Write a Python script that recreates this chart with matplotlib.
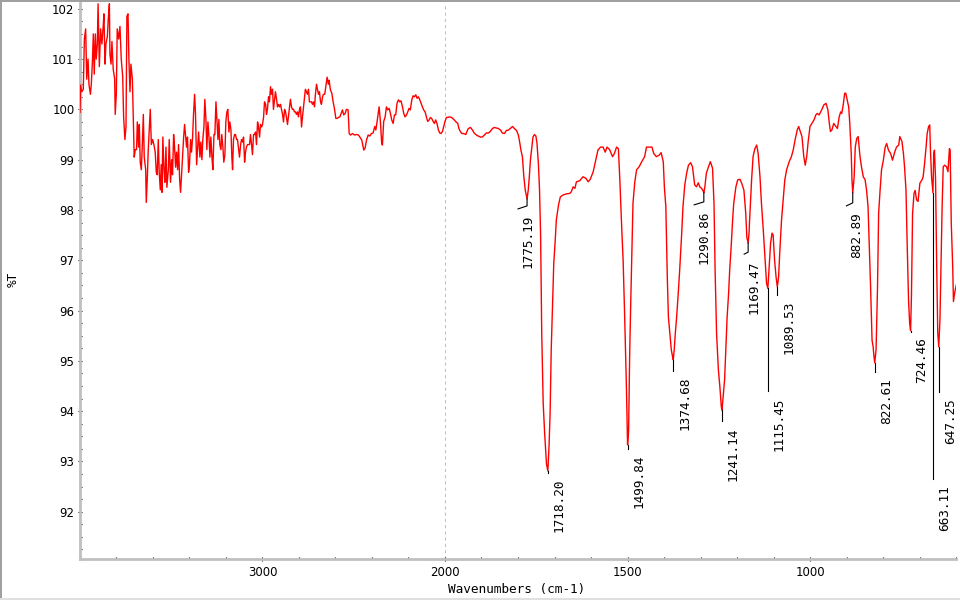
import numpy as np
import matplotlib
matplotlib.use("Agg")
import matplotlib.pyplot as plt
from matplotlib.ticker import FixedLocator, FormatStrFormatter, NullFormatter
from matplotlib.patches import Rectangle

# ---------------- data ----------------
wn_high = [4000, 3997, 3990, 3982, 3976, 3969, 3963, 3956, 3951, 3943, 3938, 3932, 3927, 3922,
           3916, 3911, 3905, 3901, 3894, 3887, 3880, 3872, 3869, 3863, 3858, 3850, 3845, 3839,
           3836, 3830, 3825, 3818, 3810, 3807, 3801, 3796, 3788, 3781, 3774, 3766, 3761, 3754,
           3748, 3743, 3737, 3732, 3726, 3721, 3713, 3708, 3703, 3697, 3690, 3686, 3679, 3675,
           3670, 3664, 3659, 3653, 3648, 3640, 3637, 3631, 3626, 3620, 3615, 3609, 3602, 3595,
           3588, 3582, 3577, 3571, 3566, 3560, 3555, 3551, 3546, 3540, 3535, 3529, 3524, 3516,
           3511, 3504, 3498, 3493, 3487, 3482, 3476, 3471, 3465, 3460, 3454, 3449, 3443, 3438,
           3432, 3427, 3421, 3416, 3411, 3405, 3400, 3394, 3389, 3383, 3378, 3372, 3367, 3361,
           3356, 3350, 3343, 3338, 3332, 3327, 3321, 3316, 3310, 3305, 3299, 3294, 3288, 3283,
           3277, 3272, 3266, 3261, 3255, 3250, 3244, 3239, 3234, 3228, 3223, 3217, 3212, 3206,
           3201, 3195, 3190, 3184, 3179, 3173, 3168, 3164, 3159, 3153, 3148, 3142, 3137, 3131,
           3126, 3120, 3115, 3109, 3104, 3098, 3093, 3088, 3082, 3077, 3071, 3066, 3060, 3055,
           3049, 3044, 3038, 3033, 3027, 3022, 3016, 3011, 3005, 3000, 2994, 2989, 2983, 2978,
           2973, 2967, 2962, 2956, 2951, 2945, 2940, 2934, 2929, 2923, 2918, 2912, 2907, 2901,
           2896, 2890, 2885, 2879, 2874, 2869, 2863, 2858, 2852, 2847, 2841, 2836, 2830, 2825,
           2819, 2814, 2808, 2803, 2797, 2792, 2786, 2781, 2775, 2770, 2765, 2759, 2754, 2748,
           2743, 2737, 2732, 2726, 2721, 2715, 2710, 2704, 2699, 2693, 2688, 2682, 2677, 2671,
           2666, 2659, 2646, 2639, 2635, 2628, 2620, 2613, 2606, 2598, 2591, 2584, 2576, 2569,
           2562, 2555, 2547, 2540, 2531, 2525, 2518, 2507, 2496, 2485, 2474, 2463, 2456, 2445,
           2438, 2430, 2421, 2412, 2403, 2394, 2385, 2379, 2372, 2365, 2361, 2354, 2347, 2343,
           2336, 2328, 2321, 2314, 2306, 2299, 2292, 2284, 2277, 2270, 2263, 2255, 2248, 2241,
           2233, 2226, 2219, 2211, 2204, 2197, 2190, 2182, 2175, 2168, 2160, 2153, 2146, 2138,
           2131, 2124, 2117, 2109, 2102, 2095, 2087, 2080, 2073, 2065, 2058, 2051, 2044, 2036,
           2029, 2022, 2014, 2007]
T_high = [99.94, 100.48, 100.35, 100.40, 101.40, 101.60, 100.60, 101.00, 100.50, 100.30, 100.50,
          100.95, 101.50, 100.70, 101.50, 101.00, 101.30, 102.10, 100.85, 101.60, 101.30, 101.70,
          101.90, 100.90, 101.30, 101.45, 101.80, 102.10, 101.10, 100.90, 101.35, 100.80, 100.60,
          99.90, 100.30, 101.60, 101.40, 101.65, 101.00, 100.65, 99.85, 99.40, 99.65, 101.85,
          101.90, 101.00, 100.35, 100.90, 100.60, 99.80, 99.05, 99.20, 99.20, 99.75, 99.25,
          99.70, 98.95, 98.80, 99.25, 99.90, 99.05, 98.80, 98.15, 98.65, 99.20, 99.65, 100.00,
          99.30, 99.40, 99.30, 99.15, 98.75, 98.70, 99.40, 98.75, 98.40, 98.90, 98.35, 99.45,
          98.80, 98.55, 99.25, 98.45, 98.80, 99.40, 98.55, 99.00, 98.70, 99.50, 99.25, 98.85,
          99.15, 98.80, 99.30, 98.60, 98.35, 98.75, 99.05, 99.45, 99.70, 99.45, 99.25, 99.45,
          98.75, 98.90, 99.40, 99.15, 99.45, 99.90, 100.30, 99.90, 98.90, 99.20, 99.55,
          99.05, 99.35, 99.00, 99.40, 99.65, 100.20, 99.80, 99.20, 99.75, 99.50, 99.05, 99.45,
          99.05, 98.80, 99.50, 99.50, 100.15, 99.80, 99.40, 99.80, 99.30, 99.20, 99.50, 99.25,
          98.95, 99.10, 99.75, 99.95, 100.00, 99.55, 99.75, 99.60, 99.05, 98.80, 99.40, 99.50,
          99.50, 99.40, 99.40, 99.20, 99.05, 99.30, 99.40, 99.35, 99.45, 98.95, 99.15, 99.25,
          99.30, 99.30, 99.30, 99.50, 99.30, 99.10, 99.50, 99.50, 99.55, 99.30, 99.75, 99.65,
          99.45, 99.70, 99.65, 99.70, 99.85, 100.15, 100.10, 99.90, 100.00, 100.25, 100.15,
          100.45, 100.30, 100.40, 100.00, 100.20, 100.35, 100.20, 100.05, 100.10, 100.05, 100.10,
          100.00, 99.90, 99.75, 100.00, 99.95, 99.85, 99.70, 99.85, 100.05, 100.20, 100.05,
          100.00, 100.00, 99.95, 99.95, 99.90, 99.95, 99.85, 100.00, 100.05, 99.65, 99.85,
          100.05, 100.20, 100.40, 100.35, 100.30, 100.40, 100.15, 100.15, 100.15, 100.10,
          100.15, 100.05, 100.30, 100.50, 100.40, 100.30, 100.35, 100.15, 100.10, 100.25,
          100.30, 100.30, 100.64, 100.50, 100.58, 100.39, 100.32, 100.15, 100.02, 99.82, 99.82,
          99.84, 99.85, 99.92, 99.99, 99.89, 99.92, 100.00, 99.99, 99.52, 99.49, 99.52, 99.49,
          99.50, 99.49, 99.43, 99.39, 99.19, 99.23, 99.39, 99.49, 99.47, 99.52, 99.53, 99.66,
          99.59, 99.76, 99.95, 100.05, 99.76, 99.33, 99.29, 99.76, 99.85, 100.05, 99.99, 100.02,
          99.92, 99.79, 99.72, 99.89, 99.89, 100.12, 100.19, 100.15, 100.17, 100.05, 99.92,
          99.85, 99.89, 99.95, 100.02, 99.99, 100.19, 100.27, 100.25, 100.29, 100.22, 100.25,
          100.19, 100.12, 100.05, 99.99, 99.95, 99.85, 99.76, 99.79, 99.84, 99.82, 99.76, 99.72,
          99.79, 99.72, 99.59, 99.53, 99.52, 99.56, 99.66]

wn_low = [2000, 1996, 1993, 1987, 1982, 1976, 1971, 1965, 1962, 1958, 1954, 1949, 1943, 1940,
          1936, 1930, 1925, 1920, 1914, 1909, 1903, 1898, 1892, 1887, 1881, 1876, 1870, 1865,
          1859, 1854, 1848, 1843, 1837, 1832, 1826, 1821, 1815, 1810, 1804, 1799, 1795, 1792,
          1788, 1784, 1780, 1775.19, 1772, 1769, 1766, 1762, 1759, 1755, 1751, 1748, 1744, 1741,
          1738, 1735, 1731, 1727, 1722, 1718.20, 1715, 1712, 1709, 1706, 1702, 1698, 1695, 1689,
          1684, 1676, 1667, 1658, 1654, 1649, 1644, 1640, 1631, 1622, 1614, 1608, 1602, 1594,
          1587, 1581, 1574, 1567, 1561, 1556, 1549, 1541, 1536, 1530, 1525, 1521, 1516, 1512,
          1508, 1503, 1499.84, 1497, 1494, 1491, 1488, 1485, 1480, 1475, 1468, 1461, 1453, 1448,
          1443, 1433, 1428, 1421, 1413, 1408, 1402, 1399, 1395, 1391, 1388, 1384, 1380, 1377,
          1374.68, 1372, 1369, 1366, 1361, 1357, 1352, 1348, 1343, 1338, 1333, 1327, 1322, 1316,
          1311, 1306, 1302, 1297, 1293, 1290.86, 1288, 1284, 1278, 1273, 1267, 1263, 1260, 1256,
          1251, 1247, 1243, 1241.14, 1238, 1234, 1231, 1227, 1223, 1220, 1216, 1212, 1209, 1203,
          1198, 1192, 1187, 1181, 1176, 1173, 1169.47, 1167, 1165, 1160, 1156, 1151, 1146, 1142,
          1137, 1133, 1128, 1124, 1119, 1115.45, 1112, 1108, 1104, 1101, 1097, 1093, 1089.53,
          1086, 1083, 1078, 1073, 1069, 1064, 1057, 1051, 1046, 1041, 1035, 1031, 1028, 1022,
          1017, 1013, 1009, 1005, 1000, 995, 989, 984, 980, 975, 968, 962, 956, 951, 947, 944,
          940, 935, 929, 925, 920, 916, 913, 909, 905, 902, 898, 894, 891, 887, 885, 882.89,
          879, 876, 872, 868, 863, 859, 854, 849, 845, 841, 838, 834, 830, 827, 825, 822.61,
          819, 815, 812, 808, 804, 799, 794, 790, 785, 779, 774, 768, 763, 757, 754, 748, 744,
          741, 737, 734, 730, 727, 724.46, 722, 719, 715, 712, 708, 704, 699, 693, 690, 686,
          682, 679, 675, 672, 670, 667, 663.11, 661, 659, 656, 653, 650, 647.25, 644, 641, 638,
          635, 631, 626, 622, 618, 616, 613, 609, 607, 603, 598]
T_low = [99.76, 99.84, 99.84, 99.85, 99.84, 99.80, 99.76, 99.72, 99.62, 99.56, 99.52, 99.52,
         99.50, 99.56, 99.62, 99.64, 99.59, 99.53, 99.49, 99.47, 99.45, 99.45, 99.49, 99.53,
         99.53, 99.56, 99.62, 99.64, 99.63, 99.62, 99.59, 99.53, 99.52, 99.58, 99.59, 99.62,
         99.66, 99.62, 99.58, 99.49, 99.33, 99.19, 99.06, 98.66, 98.39, 98.22, 98.39, 98.66,
         98.99, 99.25, 99.45, 99.50, 99.47, 99.33, 98.90, 98.40, 97.47, 95.55, 94.16, 93.56,
         92.95, 92.81, 93.30, 93.96, 95.22, 95.95, 96.94, 97.40, 97.80, 98.10, 98.26, 98.30,
         98.32, 98.33, 98.36, 98.46, 98.43, 98.56, 98.58, 98.66, 98.63, 98.56, 98.61, 98.76,
         98.99, 99.19, 99.25, 99.25, 99.15, 99.25, 99.20, 99.06, 99.12, 99.25, 99.22, 98.60,
         97.67, 97.00, 95.95, 94.49, 93.33, 93.60, 95.15, 96.20, 97.14, 98.13, 98.56, 98.80,
         98.86, 98.96, 99.06, 99.25, 99.25, 99.25, 99.12, 99.06, 99.09, 99.14, 98.96, 98.46,
         98.07, 96.67, 95.88, 95.55, 95.22, 95.10, 95.02, 95.22, 95.55, 95.81, 96.34, 96.81,
         97.47, 98.07, 98.50, 98.73, 98.89, 98.94, 98.86, 98.50, 98.46, 98.54, 98.46, 98.43,
         98.38, 98.34, 98.46, 98.73, 98.86, 98.96, 98.83, 98.13, 96.81, 95.55, 94.82, 94.49,
         94.09, 94.02, 94.29, 94.62, 95.15, 95.88, 96.34, 96.81, 97.27, 97.80, 98.13, 98.46,
         98.60, 98.61, 98.53, 98.39, 97.93, 97.45, 97.34, 97.54, 97.87, 98.60, 99.06, 99.22,
         99.29, 99.12, 98.66, 98.13, 97.60, 97.14, 96.54, 96.44, 96.87, 97.34, 97.54, 97.50,
         97.00, 96.67, 96.47, 96.67, 97.14, 97.80, 98.26, 98.60, 98.80, 98.96, 99.06, 99.19,
         99.39, 99.59, 99.66, 99.59, 99.46, 99.06, 98.89, 99.06, 99.36, 99.66, 99.72, 99.79,
         99.89, 99.92, 99.89, 99.99, 100.09, 100.12, 99.99, 99.72, 99.56, 99.59, 99.72, 99.66,
         99.62, 99.85, 99.95, 99.92, 100.09, 100.32, 100.32, 100.19, 100.05, 99.72, 99.12,
         98.60, 98.34, 98.66, 99.25, 99.42, 99.46, 99.06, 98.86, 98.66, 98.60, 98.39, 98.07,
         97.40, 96.47, 95.41, 95.28, 95.10, 94.96, 95.22, 96.47, 97.93, 98.39, 98.80, 98.99,
         99.25, 99.32, 99.19, 99.12, 98.99, 99.15, 99.25, 99.29, 99.46, 99.36, 99.12, 98.86,
         98.39, 97.40, 96.20, 95.75, 95.60, 96.30, 97.93, 98.33, 98.39, 98.20, 98.17, 98.53,
         98.60, 98.66, 98.93, 99.25, 99.52, 99.66, 99.69, 99.19, 98.66, 98.34, 99.12, 99.19,
         98.60, 96.94, 95.55, 95.28, 95.81, 96.94, 98.07, 98.86, 98.89, 98.86, 98.76, 99.22,
         99.19, 97.74, 96.87, 96.18, 96.38, 96.54]

peak_labels = ["1775.19", "1718.20", "1499.84", "1374.68", "1290.86", "1241.14", "1169.47",
               "1115.45", "1089.53", "882.89", "822.61", "724.46", "663.11", "647.25"]
peak_wn = [1775.19, 1718.20, 1499.84, 1374.68, 1290.86, 1241.14, 1169.47,
           1115.45, 1089.53, 882.89, 822.61, 724.46, 663.11, 647.25]
peak_T = [98.22, 92.81, 93.33, 95.02, 98.34, 94.02, 97.34,
          96.44, 96.47, 98.34, 94.96, 95.60, 98.34, 95.28]

x_major = [3000, 2000, 1500, 1000]
x_minor = [3800, 3600, 3400, 3200, 2800, 2600, 2400, 2200,
           1900, 1800, 1700, 1600, 1400, 1300, 1200, 1100, 900, 800, 700, 600]
y_major = [92, 93, 94, 95, 96, 97, 98, 99, 100, 101, 102]

# ---------------- layout of the peak annotations (pixels) ----------------
leader_drop = [7, 2, 4, 11, 9, 11, 9, 103, 8, 10, 9, 1, 286, 45]
leader_hook = [(-9, 3), None, None, None, (-9.7, 3), None, (-4, 2),
               None, None, (-6.3, 3), None, None, None, None]


def fwd(w):
    w = np.asarray(w, dtype=float)
    return np.where(w >= 2000, w, 2 * w - 2000)


def inv(t):
    t = np.asarray(t, dtype=float)
    return np.where(t >= 2000, t, (t + 2000) / 2)


W, H = 960, 600
fig = plt.figure(figsize=(9.6, 6.0), dpi=100)
fig.patch.set_facecolor("white")
ax_left, ax_right, ax_top, ax_bottom = 80, 956, 2.5, 558.8
ax = fig.add_axes([ax_left / W, 1 - ax_bottom / H,
                   (ax_right - ax_left) / W, (ax_bottom - ax_top) / H])
ax.set_xscale("function", functions=(fwd, inv))
ax.set_xlim(4000, 600)
ax.set_ylim(91.064, 102.125)

ax.axvline(2000, color="#c0c0c0", lw=0.75, ls=(0, (3, 3)), zorder=1)
ax.plot(wn_high + wn_low, T_high + T_low, color="#ff0000", lw=1.0, zorder=3)

for s in ("top", "right"):
    ax.spines[s].set_visible(False)
for s in ("left", "bottom"):
    ax.spines[s].set_color("#c0c0c0")
    ax.spines[s].set_linewidth(2.0)

ax.xaxis.set_major_locator(FixedLocator(x_major))
ax.xaxis.set_minor_locator(FixedLocator(x_minor))
ax.xaxis.set_major_formatter(FormatStrFormatter("%d"))
ax.xaxis.set_minor_formatter(NullFormatter())
ax.yaxis.set_major_locator(FixedLocator(y_major))
ax.yaxis.set_minor_locator(FixedLocator(list(np.arange(91.25, 102.2, 0.25))))
ax.yaxis.set_major_formatter(FormatStrFormatter("%d"))
ax.yaxis.set_minor_formatter(NullFormatter())

ax.tick_params(axis="x", which="major", direction="inout", length=3.4, width=0.8,
               color="black", labelsize=8.5, pad=3.3)
ax.tick_params(axis="x", which="minor", direction="in", length=1.5, width=0.8, color="black")
ax.tick_params(axis="y", which="major", direction="inout", length=3.4, width=0.8,
               color="black", labelsize=8.5, pad=2.3)
ax.tick_params(axis="y", which="minor", direction="in", length=1.5, width=0.8, color="black")
for lab in ax.get_xticklabels() + ax.get_yticklabels():
    lab.set_fontfamily("DejaVu Sans")

# peak annotations
mono = "DejaVu Sans Mono"
to_data = ax.transData.inverted()
for lab, w, t, drop, hk in zip(peak_labels, peak_wn, peak_T, leader_drop, leader_hook):
    x0, y0 = ax.transData.transform((w, t))
    pts = [(x0, y0), (x0, y0 - drop)]
    if hk is not None:
        pts.append((x0 + hk[0], y0 - drop - hk[1]))
    xe, ye = pts[-1]
    d = to_data.transform(np.array(pts))
    ax.plot(d[:, 0], d[:, 1], color="black", lw=0.8, zorder=4, clip_on=False)
    tx, ty = to_data.transform((xe + (3.3 if hk is not None else 5.0), ye - 6))
    ax.text(tx, ty, lab, rotation=90, ha="left", va="top", family=mono,
            size=9.2, color="black", zorder=5)

fig.text(517 / W, 1 - 589.5 / H, "Wavenumbers (cm-1)", ha="center", va="center",
         family=mono, size=9.2)
fig.text(13 / W, 1 - 279 / H, "%T", rotation=90, ha="center", va="center",
         family=mono, size=9.2)

# window frame
fig.add_artist(Rectangle((0, 0), 2 / W, 1, transform=fig.transFigure,
                         facecolor="#a0a0a0", edgecolor="none"))
fig.add_artist(Rectangle((0, 1 - 2 / H), 1, 2 / H, transform=fig.transFigure,
                         facecolor="#a0a0a0", edgecolor="none"))
fig.add_artist(Rectangle((0, 0), 1, 2 / H, transform=fig.transFigure,
                         facecolor="#e0e0e0", edgecolor="none"))

fig.savefig("out.png", dpi=100)
